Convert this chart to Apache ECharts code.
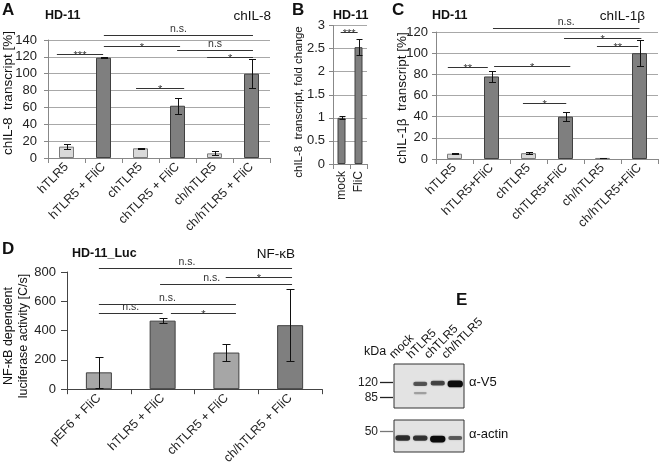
<!DOCTYPE html>
<html><head><meta charset="utf-8">
<script src="https://cdn.jsdelivr.net/npm/echarts@6/dist/echarts.min.js"></script>
<style>html,body{margin:0;padding:0;background:#fff}#c{width:660px;height:467px}</style>
</head><body><div id="c"></div>
<script>
const FONT = '"Liberation Sans", Arial, Helvetica, sans-serif';

// ---------- Panel A: chIL-8 transcript [%] ----------
const catsA = ['hTLR5', 'hTLR5 + FliC', 'chTLR5', 'chTLR5 + FliC', 'ch/hTLR5', 'ch/hTLR5 + FliC'];
const valuesA = [13.5, 119, 11.5, 62, 5.5, 100];
const errorsA = [3, 0.5, 0.5, 9.5, 2.5, 17];
const yTicksA = [0, 20, 40, 60, 80, 100, 120, 140];
// [from (category units), to, y value, label]
const bracketsA = [
  [-0.26, 0.99, 123, '***'],
  [1.01, 5.04, 146, 'n.s.'],
  [1.01, 3.07, 133, '*'],
  [2.99, 5.04, 128, 'n.s'],
  [3.8, 5.04, 120, '*'],
  [1.88, 3.18, 83, '*']
];

// ---------- Panel B: chIL-8 fold change ----------
const catsB = ['mock', 'FliC'];
const valuesB = [1.0, 2.53];
const errorsB = [0.03, 0.17];
const yTicksB = [0, 0.5, 1, 1.5, 2, 2.5, 3];
const bracketsB = [[-0.05, 0.95, 2.86, '***']];

// ---------- Panel C: chIL-1β transcript [%] ----------
const catsC = ['hTLR5', 'hTLR5+FliC', 'chTLR5', 'chTLR5+FliC', 'ch/hTLR5', 'ch/hTLR5+FliC'];
const valuesC = [5, 78, 5.5, 40, 1, 100];
const errorsC = [0.5, 5, 1, 4.5, 0.3, 12];
const yTicksC = [0, 20, 40, 60, 80, 100, 120];
const bracketsC = [
  [-0.18, 0.9, 87, '**'],
  [1.07, 3.13, 87.6, '*'],
  [1.85, 3.02, 53, '*'],
  [1.04, 5.0, 124, 'n.s.'],
  [2.96, 5.05, 114, '*'],
  [3.85, 4.97, 107, '**']
];

// ---------- Panel D: NF-κB luciferase ----------
const catsD = ['pEF6 + FliC', 'hTLR5 + FliC', 'chTLR5 + FliC', 'ch/hTLR5 + FliC'];
const valuesD = [115, 468, 250, 437];
const errorsD = [105, 17, 56, 247];
const yTicksD = [0, 200, 400, 600, 800];
const bracketsD = [
  [0, 3.03, 825, 'n.s.', 1.38],
  [1.99, 3.03, 769, '*'],
  [0.96, 3.03, 720, 'n.s.', 1.77],
  [0, 2.15, 580, 'n.s.'],
  [0, 1.0, 520, 'n.s.'],
  [1.13, 2.15, 520, '*']
];

// ---------- Panel E: western blot ----------
const lanesE = ['mock', 'hTLR5', 'chTLR5', 'ch/hTLR5'];
// [lane index, apparent size (kDa), intensity 0..1]
const bandsV5 = [[1, 115, 0.5], [1, 93, 0.08], [2, 117, 0.6], [3, 115, 1.0]];
const bandsActin = [[0, 42.5, 0.75], [1, 42.5, 0.7], [2, 41.5, 1.0], [3, 42.5, 0.45]];
const markersV5 = [120, 85];
const markersActin = [50];

const LIGHT = '#d9d9d9', DARK = '#7f7f7f', MID = '#a6a6a6';
const EDGE_L = '#7a7a7a', EDGE_D = '#404040';

function tickSpec(t) { return { min: t[0], max: t[t.length - 1], interval: t[1] - t[0] }; }

function valueAxis(gi, ticks, margin, opts) {
  return Object.assign({
    type: 'value', gridIndex: gi, ...tickSpec(ticks),
    axisLine: { show: true, lineStyle: { color: '#888' } },
    axisTick: { show: true, length: 4, lineStyle: { color: '#888' } },
    axisLabel: { color: '#222', fontSize: 13, fontFamily: FONT, margin: margin },
    splitLine: { show: true, lineStyle: { color: '#a8a8a8', width: 1 } }
  }, opts || {});
}
function catAxis(gi, cats, rotate, opts) {
  return Object.assign({
    type: 'category', gridIndex: gi, data: cats,
    axisLine: { show: true, lineStyle: { color: '#888' } },
    axisTick: { show: true, length: 5, lineStyle: { color: '#888' } },
    axisLabel: { color: '#222', fontSize: 12.5, fontFamily: FONT, rotate: rotate, interval: 0, margin: 7 }
  }, opts || {});
}

function barSeries(ai, values, colorFn, edgeFn, width) {
  return {
    type: 'bar', xAxisIndex: ai, yAxisIndex: ai, barWidth: width, z: 2,
    data: values.map((v, i) => ({ value: v, itemStyle: { color: colorFn(i), borderColor: edgeFn(i), borderWidth: 1 } })),
    animation: false
  };
}

function errorSeries(ai, values, errors, cap) {
  return {
    type: 'custom', xAxisIndex: ai, yAxisIndex: ai, z: 5, animation: false,
    data: values.map((v, i) => [i, v, errors[i]]),
    encode: { x: 0, y: 1 },
    renderItem: function (params, api) {
      const x = api.value(0), v = api.value(1), e = api.value(2);
      const hi = api.coord([x, v + e]), lo = api.coord([x, v - e]);
      const cx = Math.round(hi[0]) + 0.5;
      const yh = Math.round(hi[1]) + 0.5, yl = Math.round(lo[1]) + 0.5;
      const st = { stroke: '#111', lineWidth: 1 };
      return { type: 'group', children: [
        { type: 'line', shape: { x1: cx, y1: yh, x2: cx, y2: yl }, style: st },
        { type: 'line', shape: { x1: cx - cap, y1: yh, x2: cx + cap, y2: yh }, style: st },
        { type: 'line', shape: { x1: cx - cap, y1: yl, x2: cx + cap, y2: yl }, style: st }
      ] };
    }
  };
}

function bracketSeries(ai, brackets) {
  return {
    type: 'custom', xAxisIndex: ai, yAxisIndex: ai, z: 6, animation: false,
    data: brackets.map(b => [0, b[2]]),
    encode: { x: 0, y: 1 },
    renderItem: function (params, api) {
      const b = brackets[params.dataIndex];
      const c0 = api.coord([0, b[2]]), c1 = api.coord([1, b[2]]);
      const band = c1[0] - c0[0];
      const x1 = c0[0] + b[0] * band, x2 = c0[0] + b[1] * band;
      const y = Math.round(c0[1]) + 0.5;
      const lx = b.length > 4 ? c0[0] + b[4] * band : (x1 + x2) / 2;
      const star = b[3].indexOf('*') >= 0;
      return { type: 'group', children: [
        { type: 'line', shape: { x1: x1, y1: y, x2: x2, y2: y }, style: { stroke: '#333', lineWidth: 1 } },
        { type: 'text', style: {
          text: b[3], x: lx, y: star ? y + 1.5 : y - 1,
          textAlign: 'center', textVerticalAlign: star ? 'middle' : 'bottom',
          font: (star ? '11px ' : '10.5px ') + FONT, fill: '#333'
        } }
      ] };
    }
  };
}

function bandSeries(ai, bands) {
  return {
    type: 'custom', xAxisIndex: ai, yAxisIndex: ai, z: 5, animation: false,
    data: bands.map(b => [b[0], b[1]]),
    encode: { x: 0, y: 1 },
    renderItem: function (params, api) {
      const b = bands[params.dataIndex];
      const p = api.coord([b[0], b[1]]);
      const lw = api.coord([1, b[1]])[0] - api.coord([0, b[1]])[0];
      const w = lw * (0.72 + 0.16 * b[2]);
      const h = 1.6 + 5.2 * b[2];
      return { type: 'rect', shape: { x: p[0] - w / 2, y: p[1] - h / 2, width: w, height: h, r: h / 2 },
        style: { fill: 'rgba(12,12,12,' + (0.2 + 0.8 * b[2]) + ')', shadowBlur: 2, shadowColor: 'rgba(0,0,0,0.35)' } };
    }
  };
}

function markerSeries(ai, markers, color) {
  return {
    type: 'custom', xAxisIndex: ai, yAxisIndex: ai, z: 5, animation: false,
    data: markers.map(m => [0, m]),
    encode: { x: 0, y: 1 },
    renderItem: function (params, api) {
      const m = markers[params.dataIndex];
      const p = api.coord([0, m]);
      const left = params.coordSys.x;
      const y = Math.round(p[1]) + 0.5;
      return { type: 'group', children: [
        { type: 'line', shape: { x1: left - 14, y1: y, x2: left - 1, y2: y }, style: { stroke: color, lineWidth: 1.3 } },
        { type: 'text', style: { text: String(m), x: left - 16, y: y, textAlign: 'right', textVerticalAlign: 'middle',
          font: '12px ' + FONT, fill: '#222' } }
      ] };
    }
  };
}

// lane labels, written diagonally above the blot, anchored at each lane centre
function laneLabelSeries(ai, lanes) {
  return {
    type: 'custom', xAxisIndex: ai, yAxisIndex: ai, z: 5, animation: false,
    data: lanes.map((l, i) => [i, 100]),
    encode: { x: 0, y: 1 },
    renderItem: function (params, api) {
      const p = api.coord([api.value(0), 100]);
      const top = params.coordSys.y;
      return { type: 'text', x: p[0] - 7, y: top - 3, rotation: Math.PI / 4,
        style: { text: lanes[params.dataIndex], x: 0, y: 0, textAlign: 'left', textVerticalAlign: 'bottom',
          font: '12px ' + FONT, fill: '#111' } };
    }
  };
}

function txt(x, y, text, font, align, rot) {
  const el = { type: 'text', x: x, y: y, style: { text: text, font: font, fill: '#111',
    textAlign: align || 'left', textVerticalAlign: 'middle' } };
  if (rot) el.rotation = rot;
  return el;
}

const isFliC = i => catsA[i].indexOf('FliC') >= 0;
const isFliCC = i => catsC[i].indexOf('FliC') >= 0;

const option = {
  animation: false,
  textStyle: { fontFamily: FONT },
  grid: [
    { left: 48, top: 40, width: 222, height: 118 },
    { left: 333, top: 25.5, width: 34, height: 138.5 },
    { left: 436, top: 32, width: 222, height: 127 },
    { left: 67, top: 272, width: 255, height: 120 },
    { left: 394, top: 364, width: 70, height: 44, show: true, backgroundColor: '#e3e3e3', borderColor: '#333', borderWidth: 1 },
    { left: 394, top: 420, width: 70, height: 32, show: true, backgroundColor: '#e3e3e3', borderColor: '#333', borderWidth: 1 }
  ],
  xAxis: [
    catAxis(0, catsA, 45),
    catAxis(1, catsB, 90, { axisLabel: { color: '#222', fontSize: 12, fontFamily: FONT, rotate: 90, interval: 0, margin: 7 } }),
    catAxis(2, catsC, 45),
    catAxis(3, catsD, 45, { axisLine: { show: true, lineStyle: { color: '#444' } }, axisTick: { show: true, length: 5, lineStyle: { color: '#444' } } }),
    { type: 'category', gridIndex: 4, data: lanesE, show: false },
    { type: 'category', gridIndex: 5, data: lanesE, show: false }
  ],
  yAxis: [
    valueAxis(0, yTicksA, 11),
    valueAxis(1, yTicksB, 8),
    valueAxis(2, yTicksC, 8),
    valueAxis(3, yTicksD, 11, {
      axisLine: { show: true, lineStyle: { color: '#444' } },
      axisTick: { show: true, length: 6, lineStyle: { color: '#444' } },
      splitLine: { show: false }
    }),
    { type: 'log', gridIndex: 4, min: 66, max: 182, show: false },
    { type: 'log', gridIndex: 5, min: 30.8, max: 64.4, show: false }
  ],
  series: [
    barSeries(0, valuesA, i => isFliC(i) ? DARK : LIGHT, i => isFliC(i) ? EDGE_D : EDGE_L, 15),
    errorSeries(0, valuesA, errorsA, 3.5),
    bracketSeries(0, bracketsA),

    barSeries(1, valuesB, i => DARK, i => EDGE_D, 8),
    errorSeries(1, valuesB, errorsB, 3),
    bracketSeries(1, bracketsB),

    barSeries(2, valuesC, i => isFliCC(i) ? DARK : LIGHT, i => isFliCC(i) ? EDGE_D : EDGE_L, 15),
    errorSeries(2, valuesC, errorsC, 3.5),
    bracketSeries(2, bracketsC),

    barSeries(3, valuesD, i => i % 2 ? DARK : MID, i => EDGE_D, 26),
    errorSeries(3, valuesD, errorsD, 4),
    bracketSeries(3, bracketsD),

    bandSeries(4, bandsV5),
    markerSeries(4, markersV5, '#222'),
    laneLabelSeries(4, lanesE),
    bandSeries(5, bandsActin),
    markerSeries(5, markersActin, '#777')
  ],
  graphic: [
    txt(2, 10, 'A', 'bold 17px ' + FONT),
    txt(45, 16, 'HD-11', 'bold 12.5px ' + FONT),
    txt(271, 16, 'chIL-8', '13.5px ' + FONT, 'right'),
    txt(8, 93, 'chIL-8  transcript [%]', '13.5px ' + FONT, 'center', Math.PI / 2),

    txt(292, 10, 'B', 'bold 17px ' + FONT),
    txt(333, 16, 'HD-11', 'bold 12.5px ' + FONT),
    txt(299, 102, 'chIL-8  transcript, fold change', '11.5px ' + FONT, 'center', Math.PI / 2),

    txt(392, 10, 'C', 'bold 17px ' + FONT),
    txt(432, 16, 'HD-11', 'bold 12.5px ' + FONT),
    txt(645, 16, 'chIL-1β', '13.5px ' + FONT, 'right'),
    txt(402, 98, 'chIL-1β  transcript [%]', '13.5px ' + FONT, 'center', Math.PI / 2),

    txt(2, 249, 'D', 'bold 17px ' + FONT),
    txt(72, 254, 'HD-11_Luc', 'bold 12.5px ' + FONT),
    txt(295, 254, 'NF-κB', '13.5px ' + FONT, 'right'),
    txt(9, 336, 'NF-κB dependent', '12.5px ' + FONT, 'center', Math.PI / 2),
    txt(24, 336, 'luciferase activity [C/s]', '12.5px ' + FONT, 'center', Math.PI / 2),

    txt(456, 300, 'E', 'bold 17px ' + FONT),
    txt(364, 352, 'kDa', '12.5px ' + FONT),
    txt(469, 382, 'α-V5', '13px ' + FONT),
    txt(469, 434, 'α-actin', '13px ' + FONT)
  ]
};

const chart = echarts.init(document.getElementById('c'), null, { renderer: 'canvas', width: 660, height: 467 });
chart.setOption(option);
</script></body></html>
